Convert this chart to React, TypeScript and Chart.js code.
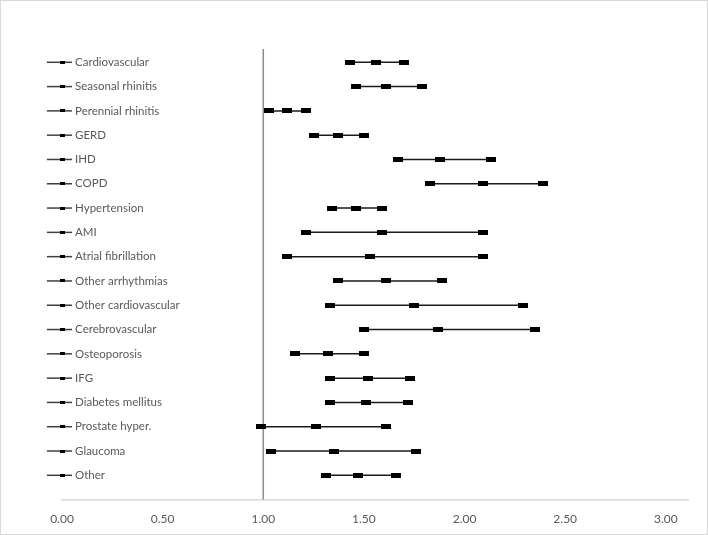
import React, { useEffect, useRef } from "react";
import { Chart, registerables } from "chart.js";

Chart.register(...registerables);

const categories = [
  "Cardiovascular",
  "Seasonal rhinitis",
  "Perennial rhinitis",
  "GERD",
  "IHD",
  "COPD",
  "Hypertension",
  "AMI",
  "Atrial fibrillation",
  "Other arrhythmias",
  "Other cardiovascular",
  "Cerebrovascular",
  "Osteoporosis",
  "IFG",
  "Diabetes mellitus",
  "Prostate hyper.",
  "Glaucoma",
  "Other",
];

const lower = [1.43, 1.46, 1.03, 1.25, 1.67, 1.83, 1.34, 1.21, 1.12, 1.37, 1.33, 1.5, 1.16, 1.33, 1.33, 0.99, 1.04, 1.31];
const estimate = [1.56, 1.61, 1.12, 1.37, 1.88, 2.09, 1.46, 1.59, 1.53, 1.61, 1.75, 1.87, 1.32, 1.52, 1.51, 1.26, 1.35, 1.47];
const upper = [1.7, 1.79, 1.21, 1.5, 2.13, 2.39, 1.59, 2.09, 2.09, 1.89, 2.29, 2.35, 1.5, 1.73, 1.72, 1.61, 1.76, 1.66];

const xTicks = [0, 0.5, 1, 1.5, 2, 2.5, 3];
const labelStubX = [-0.075, 0, 0.05];
const refLineX = 1;
const refLineY = [0, 18.55];

const FONT = "Lato, 'Open Sans', sans-serif";
const TEXT = "#595959";

function makeRect(w: number, h: number, color: string) {
  const c = document.createElement("canvas");
  c.width = w;
  c.height = h;
  const ctx = c.getContext("2d")!;
  ctx.fillStyle = color;
  ctx.fillRect(0, 0, w, h);
  return c;
}

export default function App() {
  const ref = useRef<HTMLCanvasElement | null>(null);

  useEffect(() => {
    if (!ref.current) return;
    const n = categories.length;
    const rowY = (i: number) => n - i;
    const bigMarker = makeRect(10, 5, "#000000");
    const smallMarker = makeRect(5, 3, "#000000");

    const datasets: any[] = [];
    categories.forEach((_, i) => {
      datasets.push({
        data: [lower[i], estimate[i], upper[i]].map((x) => ({ x, y: rowY(i) })),
        showLine: true,
        borderColor: "#1a1a1a",
        borderWidth: 1.5,
        pointStyle: bigMarker,
        pointRadius: 5,
        clip: false,
      });
      datasets.push({
        data: labelStubX.map((x) => ({ x, y: rowY(i) })),
        showLine: true,
        borderColor: "#404040",
        borderWidth: 1.5,
        pointStyle: labelStubX.map((x) => (x === 0 ? smallMarker : false)),
        pointRadius: labelStubX.map((x) => (x === 0 ? 3 : 0)),
        clip: false,
      });
    });
    datasets.push({
      data: refLineY.map((y) => ({ x: refLineX, y })),
      showLine: true,
      borderColor: "#8c8c8c",
      borderWidth: 1.5,
      pointRadius: 0,
      clip: false,
    });

    const bgPlugin = {
      id: "bg",
      beforeDraw(chart: any) {
        const { ctx, width, height } = chart;
        ctx.save();
        ctx.fillStyle = "#ffffff";
        ctx.fillRect(0, 0, width, height);
        ctx.strokeStyle = "#d9d9d9";
        ctx.lineWidth = 1;
        ctx.strokeRect(0.5, 0.5, width - 1, height - 1);
        ctx.restore();
      },
    };

    const labelPlugin = {
      id: "rowLabels",
      afterDatasetsDraw(chart: any) {
        const { ctx } = chart;
        const xs = chart.scales.x;
        const ys = chart.scales.y;
        ctx.save();
        ctx.font = `11.5px ${FONT}`;
        ctx.fillStyle = TEXT;
        ctx.textAlign = "left";
        ctx.textBaseline = "middle";
        categories.forEach((c, i) => {
          const x = xs.getPixelForValue(labelStubX[2]) + 3;
          const y = ys.getPixelForValue(rowY(i));
          ctx.fillText(c, x, y);
        });
        ctx.restore();
      },
    };

    const chart = new Chart(ref.current, {
      type: "scatter",
      data: { datasets },
      options: {
        animation: false,
        responsive: false,
        layout: { padding: { left: 62, right: 20, top: 38, bottom: -3 } },
        plugins: { legend: { display: false }, tooltip: { enabled: false } },
        scales: {
          x: {
            type: "linear",
            min: 0,
            max: 3.11,
            afterBuildTicks: (axis: any) => {
              axis.ticks = xTicks.map((v) => ({ value: v }));
            },
            grid: { display: false, drawTicks: false },
            border: { display: true, color: "#d9d9d9", width: 1.5 },
            ticks: {
              padding: 12,
              color: TEXT,
              font: { size: 12, family: FONT },
              callback: (v: any) => Number(v).toFixed(2),
            },
          },
          y: {
            type: "linear",
            min: 0,
            max: 19,
            display: false,
          },
        },
      },
      plugins: [bgPlugin, labelPlugin],
    });
    return () => chart.destroy();
  }, []);

  return (
    <div style={{ position: "absolute", left: 0, top: 0, width: 708, height: 535 }}>
      <canvas ref={ref} width={708} height={535} />
    </div>
  );
}
